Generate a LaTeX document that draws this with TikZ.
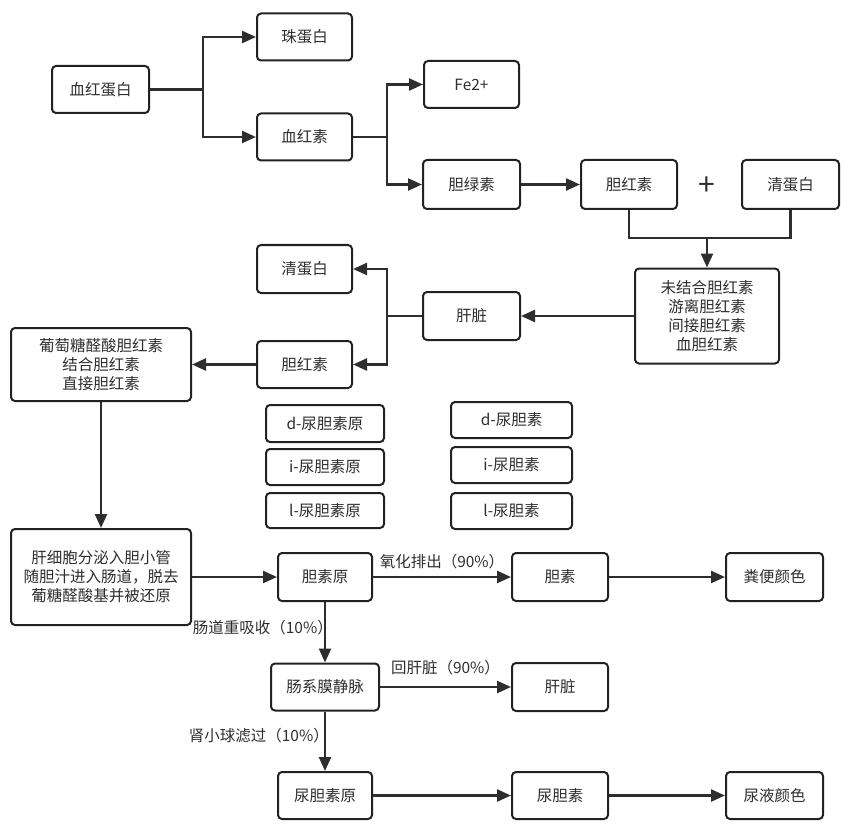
\documentclass[tikz,border=0pt]{standalone}
\usepackage{fontspec}
\setmainfont{Noto Sans CJK SC}
\usetikzlibrary{arrows.meta}
\definecolor{ink}{HTML}{2E2E2E}
\definecolor{edge}{HTML}{222222}
\tikzset{
  box/.style={draw=edge, line width=2pt, rounded corners=4pt, fill=white,
    minimum width=95pt, minimum height=47pt, inner sep=0pt, align=center,
    text=ink, font=\fontsize{15.5}{19}\selectfont},
  small/.style={box, minimum width=118pt, minimum height=36pt},
  arr/.style={draw=ink, line width=2.4pt, -{Triangle[length=14pt,width=12pt]}},
  wire/.style={draw=ink, line width=2.4pt},
  lbl/.style={text=ink, font=\fontsize{15.5}{19}\selectfont, inner sep=1pt},
}
\begin{document}
\begin{tikzpicture}[x=1pt, y=-1pt]
\useasboundingbox (0,0) rectangle (854,837);

% upper chain: haemoglobin breakdown
\node[box, minimum width=97pt] (hb) at (100.5,89.5) {血红蛋白};
\node[box] (zdb) at (304.5,37) {珠蛋白};
\node[box] (xhs) at (304.5,137) {血红素};
\node[box] (fe) at (471.5,84.5) {Fe2+};
\node[box, minimum width=97pt, minimum height=49pt] (dls) at (471.5,184.5) {胆绿素};
\node[box, minimum width=96pt, minimum height=49pt] (dhs1) at (629,184.5) {胆红素};
\node[text=ink, font=\fontsize{30}{30}\selectfont, inner sep=0pt] (plus) at (707,186) {+};
\node[box, minimum width=97pt, minimum height=49pt] (qdb1) at (790.5,184.5) {清蛋白};
\node[box, minimum width=144pt, minimum height=95pt] (wjh) at (707,316) {未结合胆红素\\游离胆红素\\间接胆红素\\血胆红素};
\node[box, minimum width=97pt, minimum height=48pt] (gz1) at (471.5,316) {肝脏};
\node[box, minimum height=48pt] (qdb2) at (304.5,269) {清蛋白};
\node[box] (dhs2) at (304.5,364.5) {胆红素};
\node[box, minimum width=180pt, minimum height=73pt] (ptt) at (101,364.5) {葡萄糖醛酸胆红素\\结合胆红素\\直接胆红素};

% isomer boxes
\node[small, minimum height=37pt] (d1) at (325,423.5) {d-尿胆素原};
\node[small] (i1) at (325,467) {i-尿胆素原};
\node[small, minimum height=35pt] (l1) at (325,510.5) {l-尿胆素原};
\node[small, minimum width=121pt] (d2) at (511.5,420) {d-尿胆素};
\node[small, minimum width=121pt] (i2) at (511.5,465) {i-尿胆素};
\node[small, minimum width=121pt] (l2) at (511.5,511) {l-尿胆素};

% lower chain: intestine and kidney
\node[box, minimum width=180pt, minimum height=96pt] (gxb) at (101,577) {肝细胞分泌入胆小管\\随胆汁进入肠道，脱去\\葡糖醛酸基并被还原};
\node[box, minimum width=94pt, minimum height=48pt] (dsy) at (325,577) {胆素原};
\node[box, minimum width=96pt, minimum height=48pt] (ds) at (560,577) {胆素};
\node[box, minimum width=97pt, minimum height=48pt] (fb) at (774.5,577) {粪便颜色};
\node[box, minimum width=108pt] (cxm) at (325,687) {肠系膜静脉};
\node[box, minimum width=96pt, minimum height=48pt] (gz2) at (560,687) {肝脏};
\node[box, minimum width=94pt] (ndsy) at (325,795.5) {尿胆素原};
\node[box, minimum width=96pt] (nds) at (560,795.5) {尿胆素};
\node[box, minimum width=97pt] (nyys) at (774.5,795.5) {尿液颜色};

% branch points
\coordinate (j1) at (203,89.5);
\coordinate (j2) at (387,137);
\coordinate (m) at (707,238);
\coordinate (j3) at (387,316);

\draw[wire] (hb.east) -- (j1);
\draw[arr] (j1) |- (zdb.west);
\draw[arr] (j1) |- (xhs.west);
\draw[wire] (xhs.east) -- (j2);
\draw[arr] (j2) |- (fe.west);
\draw[arr] (j2) |- (dls.west);
\draw[arr] (dls.east) -- (dhs1.west);
\draw[wire] (dhs1.south) -- (dhs1.south |- m) -- (qdb1.south |- m) -- (qdb1.south);
\draw[arr] (m) -- (wjh.north);
\draw[arr] (wjh.west) -- (gz1.east);
\draw[wire] (gz1.west) -- (j3);
\draw[arr] (j3) |- (qdb2.east);
\draw[arr] (j3) |- (dhs2.east);
\draw[arr] (dhs2.west) -- (ptt.east);
\draw[arr] (ptt.south) -- (gxb.north);
\draw[arr] (gxb.east) -- (dsy.west);
\draw[arr] (dsy.east) -- node[lbl, above=6pt] {氧化排出（90\%）} (ds.west);
\draw[arr] (ds.east) -- (fb.west);
\draw[arr] (dsy.south) -- node[lbl, pos=0.42, anchor=east, xshift=10pt] {肠道重吸收（10\%）} (cxm.north);
\draw[arr] (cxm.east) -- node[lbl, above=10pt] {回肝脏（90\%）} (gz2.west);
\draw[arr] (cxm.south) -- node[lbl, pos=0.41, anchor=east, xshift=6pt] {肾小球滤过（10\%）} (ndsy.north);
\draw[arr] (ndsy.east) -- (nds.west);
\draw[arr] (nds.east) -- (nyys.west);
\end{tikzpicture}
\end{document}
